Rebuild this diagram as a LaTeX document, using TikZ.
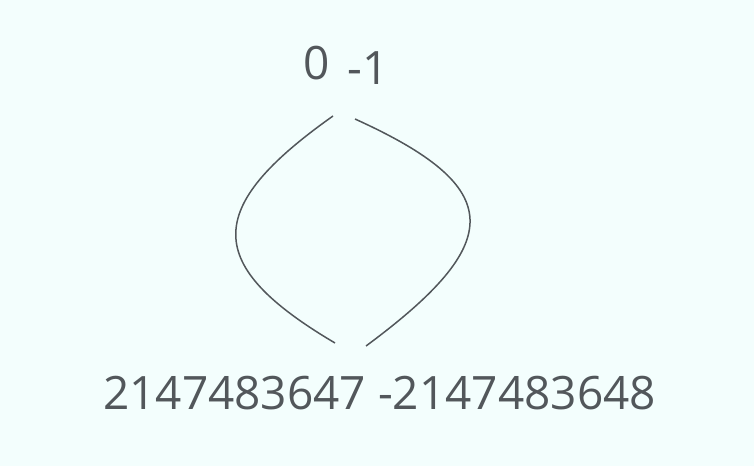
\documentclass[tikz,border=0pt]{standalone}
\usepackage{fontspec}
\setmainfont{Open Sans}
\definecolor{bgc}{HTML}{F3FEFD}
\definecolor{ink}{HTML}{52575B}
\begin{document}
\begin{tikzpicture}[x=1pt,y=-1pt,
  lbl/.style={inner sep=0pt,text=ink,font=\fontsize{46}{50}\selectfont},
  arcline/.style={draw=ink,line width=1.5pt}]
\fill[bgc] (0,0) rectangle (754,466);
\useasboundingbox (0,0) rectangle (754,466);
\node[lbl] (zero) at (317,63) {0};
\node[lbl] (minusone) at (368.5,68) {-1};
\node[lbl] (bottom) at (379.5,393.5) {2147483647 -2147483648};
\coordinate (lt) at (333,116);
\coordinate (lb) at (335,343);
\coordinate (rt) at (355,119);
\coordinate (rb) at (366,346);
\draw[arcline] (lt) .. controls (203,208) and (203,265) .. (lb);
\draw[arcline] (rt) .. controls (506.5,187.6) and (506.5,242) .. (rb);
\end{tikzpicture}
\end{document}
